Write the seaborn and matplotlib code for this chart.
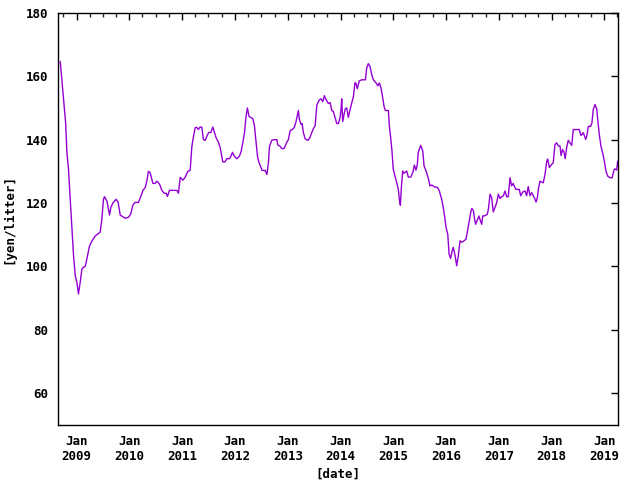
import pandas as pd
import seaborn as sns
import matplotlib
matplotlib.use("Agg")
from matplotlib import pyplot as plt
import matplotlib.dates as mdates

# weekly regular gasoline price
dates = [
    "2008-09-09", "2008-09-21", "2008-10-07", "2008-10-16", "2008-10-25", "2008-11-05",
    "2008-11-17", "2008-11-29", "2008-12-10", "2008-12-22", "2009-01-02", "2009-01-13",
    "2009-01-25", "2009-02-06", "2009-02-17", "2009-03-01", "2009-03-12", "2009-03-30",
    "2009-04-16", "2009-05-09", "2009-06-12", "2009-06-24", "2009-07-05", "2009-07-12",
    "2009-07-29", "2009-08-09", "2009-08-16", "2009-08-25", "2009-09-08", "2009-10-01",
    "2009-10-15", "2009-10-29", "2009-11-21", "2009-12-02", "2009-12-25", "2010-01-10",
    "2010-01-24", "2010-02-09", "2010-03-04", "2010-03-21", "2010-04-04", "2010-04-20",
    "2010-05-01", "2010-05-12", "2010-05-24", "2010-06-12", "2010-06-28", "2010-07-10",
    "2010-07-28", "2010-08-13", "2010-08-29", "2010-09-12", "2010-09-21", "2010-10-05",
    "2010-11-25", "2010-12-06", "2010-12-18", "2011-01-06", "2011-01-21", "2011-02-09",
    "2011-02-25", "2011-03-09", "2011-03-20", "2011-04-01", "2011-04-12", "2011-04-23",
    "2011-05-05", "2011-05-17", "2011-05-28", "2011-06-09", "2011-06-20", "2011-07-02",
    "2011-07-18", "2011-08-01", "2011-08-10", "2011-08-24", "2011-09-09", "2011-09-21",
    "2011-10-02", "2011-10-09", "2011-10-25", "2011-11-06", "2011-11-24", "2011-12-04",
    "2011-12-15", "2011-12-27", "2012-01-14", "2012-02-01", "2012-02-13", "2012-02-25",
    "2012-03-07", "2012-03-18", "2012-03-27", "2012-04-08", "2012-04-20", "2012-05-04",
    "2012-05-15", "2012-05-27", "2012-06-05", "2012-06-14", "2012-06-28", "2012-07-07",
    "2012-07-28", "2012-08-09", "2012-08-20", "2012-08-27", "2012-09-12", "2012-09-23",
    "2012-10-17", "2012-10-24", "2012-11-09", "2012-11-20", "2012-12-06", "2012-12-25",
    "2013-01-05", "2013-01-17", "2013-01-31", "2013-02-14", "2013-02-27", "2013-03-15",
    "2013-03-22", "2013-04-03", "2013-04-10", "2013-04-19", "2013-05-01", "2013-05-19",
    "2013-05-30", "2013-06-16", "2013-06-27", "2013-07-09", "2013-07-21", "2013-08-08",
    "2013-08-19", "2013-08-31", "2013-09-11", "2013-09-23", "2013-10-09", "2013-10-21",
    "2013-11-01", "2013-11-12", "2013-11-24", "2013-12-06", "2013-12-17", "2013-12-29",
    "2014-01-05", "2014-01-09", "2014-01-16", "2014-01-25", "2014-02-03", "2014-02-13",
    "2014-02-24", "2014-03-03", "2014-03-20", "2014-03-31", "2014-04-11", "2014-04-18",
    "2014-04-27", "2014-05-11", "2014-05-28", "2014-06-22", "2014-07-01", "2014-07-12",
    "2014-07-24", "2014-08-05", "2014-08-16", "2014-09-04", "2014-09-16", "2014-09-27",
    "2014-10-08", "2014-10-20", "2014-10-29", "2014-11-07", "2014-11-28", "2014-12-05",
    "2014-12-14", "2014-12-23", "2015-01-01", "2015-01-13", "2015-01-25", "2015-02-05",
    "2015-02-12", "2015-02-19", "2015-02-26", "2015-03-07", "2015-03-16", "2015-04-04",
    "2015-04-15", "2015-05-02", "2015-05-16", "2015-05-27", "2015-06-07", "2015-06-16",
    "2015-06-23", "2015-07-10", "2015-07-24", "2015-08-02", "2015-08-16", "2015-09-01",
    "2015-09-12", "2015-09-24", "2015-10-17", "2015-11-02", "2015-11-16", "2015-12-02",
    "2015-12-13", "2015-12-25", "2016-01-01", "2016-01-13", "2016-01-22", "2016-02-02",
    "2016-02-11", "2016-02-20", "2016-03-03", "2016-03-15", "2016-03-26", "2016-04-07",
    "2016-04-19", "2016-05-05", "2016-05-18", "2016-05-27", "2016-06-08", "2016-06-20",
    "2016-06-27", "2016-07-08", "2016-07-15", "2016-07-24", "2016-08-04", "2016-08-16",
    "2016-08-23", "2016-09-04", "2016-09-11", "2016-09-27", "2016-10-13", "2016-10-20",
    "2016-11-01", "2016-11-12", "2016-11-23", "2016-12-05", "2016-12-17", "2016-12-28",
    "2017-01-09", "2017-01-20", "2017-01-31", "2017-02-12", "2017-02-24", "2017-03-07",
    "2017-03-19", "2017-03-30", "2017-04-10", "2017-04-17", "2017-04-29", "2017-05-22",
    "2017-06-01", "2017-06-15", "2017-07-01", "2017-07-12", "2017-07-23", "2017-08-04",
    "2017-08-16", "2017-08-27", "2017-09-08", "2017-09-15", "2017-09-24", "2017-10-01",
    "2017-10-12", "2017-10-24", "2017-11-04", "2017-11-16", "2017-11-28", "2017-12-05",
    "2017-12-16", "2018-01-01", "2018-01-12", "2018-01-24", "2018-02-05", "2018-02-16",
    "2018-02-28", "2018-03-07", "2018-03-18", "2018-03-27", "2018-04-05", "2018-04-15",
    "2018-04-26", "2018-05-08", "2018-05-20", "2018-05-31", "2018-06-23", "2018-07-11",
    "2018-07-23", "2018-08-08", "2018-08-25", "2018-09-01", "2018-09-12", "2018-09-28",
    "2018-10-07", "2018-10-16", "2018-10-28", "2018-11-09", "2018-11-16", "2018-11-27",
    "2018-12-08", "2018-12-20", "2018-12-31", "2019-01-12", "2019-01-24", "2019-02-09",
    "2019-02-24", "2019-03-08", "2019-03-15", "2019-03-27", "2019-04-03",
]

price = [
    164.7, 158.4, 150.0, 145.4, 136.0, 130.6,
    121.2, 111.8, 103.3, 97.0, 95.0, 91.3,
    95.0, 99.2, 99.8, 100.0, 102.3, 106.4,
    108.0, 109.6, 110.8, 114.9, 121.2, 122.0,
    120.6, 118.0, 116.2, 118.6, 120.0, 121.2,
    120.2, 116.2, 115.5, 115.2, 115.5, 116.5,
    119.3, 120.2, 120.2, 122.1, 124.0, 124.9,
    126.9, 130.0, 129.6, 126.2, 126.2, 126.9,
    126.0, 124.0, 123.1, 123.1, 122.1, 124.0,
    124.0, 123.1, 128.1, 127.2, 128.1, 130.0,
    130.3, 137.9, 141.0, 143.8, 143.9, 143.2,
    144.0, 143.9, 140.0, 139.8, 141.0, 142.2,
    142.3, 144.0, 142.6, 140.6, 139.2, 137.5,
    134.8, 133.0, 133.0, 134.0, 134.0, 134.8,
    136.0, 134.8, 134.0, 134.8, 136.3, 139.1,
    142.2, 147.3, 150.0, 147.3, 147.0, 146.6,
    144.4, 139.1, 134.8, 133.0, 131.3, 130.3,
    130.3, 129.0, 132.8, 137.9, 139.8, 140.0,
    140.0, 138.3, 137.9, 137.2, 137.2, 139.2,
    140.0, 142.9, 143.2, 143.8, 145.7, 149.2,
    146.4, 144.8, 145.1, 142.2, 140.3, 139.8,
    140.3, 142.2, 143.5, 144.4, 151.0, 152.6,
    152.9, 152.0, 153.9, 152.6, 151.4, 151.7,
    149.2, 148.9, 147.0, 145.1, 145.1, 147.0,
    150.0, 152.9, 145.7, 147.9, 149.8, 150.0,
    147.0, 148.5, 151.7, 153.6, 158.0, 157.7,
    156.1, 158.6, 158.9, 158.9, 162.6, 164.0,
    163.1, 160.5, 158.9, 157.9, 157.0, 157.9,
    156.3, 153.2, 150.5, 149.2, 149.2, 144.2,
    140.6, 136.4, 130.6, 128.5, 126.4, 124.3,
    121.2, 119.3, 124.9, 130.1, 129.4, 130.1,
    128.2, 128.2, 129.6, 132.0, 130.4, 132.0,
    136.1, 138.2, 136.4, 131.7, 130.1, 127.7,
    125.4, 125.7, 125.0, 125.0, 123.8, 121.2,
    118.6, 114.9, 112.3, 110.2, 103.9, 102.5,
    104.6, 106.0, 103.6, 100.2, 103.4, 108.1,
    107.6, 108.1, 108.6, 110.7, 113.9, 117.0,
    118.3, 117.7, 115.4, 113.3, 114.5, 115.9,
    114.8, 113.3, 115.9, 116.0, 116.5, 118.0,
    122.8, 121.7, 117.2, 118.6, 120.2, 122.8,
    121.4, 122.0, 122.2, 123.8, 122.0, 122.0,
    128.0, 125.4, 126.2, 125.4, 124.3, 124.3,
    122.3, 123.5, 123.8, 122.3, 125.2, 122.3,
    123.3, 122.3, 121.2, 120.3, 121.6, 124.3,
    126.9, 126.6, 126.4, 129.0, 133.2, 133.9,
    131.2, 132.2, 132.7, 138.5, 139.0, 138.0,
    138.0, 135.0, 136.9, 136.1, 134.0, 137.5,
    139.8, 139.0, 138.2, 143.2, 143.2, 143.2,
    141.3, 142.2, 140.1, 141.1, 144.2, 144.2,
    145.3, 149.5, 151.1, 149.7, 146.4, 141.6,
    138.0, 135.8, 133.4, 130.1, 128.5, 128.0,
    128.0, 130.4, 130.8, 130.4, 133.2,
]

df = pd.DataFrame({"date": pd.to_datetime(dates), "price": price})

sns.set_style("white")
plt.rcParams["font.family"] = ["DejaVu Sans Mono"]
plt.rcParams["font.weight"] = "bold"
plt.rcParams["font.size"] = 9
plt.rcParams["text.color"] = "black"
plt.rcParams["axes.labelcolor"] = "black"

fig = plt.figure(figsize=(6.4, 4.8), dpi=100)
ax = fig.add_axes([0.091, 0.115, 0.875, 0.858])

sns.lineplot(data=df, x="date", y="price", color="#9400d3", linewidth=1.0, ax=ax)

ax.set_xlim(pd.Timestamp("2008-08-26"), pd.Timestamp("2019-04-07"))
ax.set_ylim(50, 180)
ax.set_yticks([60, 80, 100, 120, 140, 160, 180])

ax.xaxis.set_major_locator(mdates.YearLocator())
ax.xaxis.set_major_formatter(mdates.DateFormatter("%b\n%Y"))
ax.xaxis.set_minor_locator(mdates.MonthLocator(bymonth=[4, 7, 10]))

for s in ax.spines.values():
    s.set_visible(True)
    s.set_color("black")
    s.set_linewidth(1.0)

ax.tick_params(axis="both", which="major", direction="in", length=5, width=1,
               top=True, right=True, labelsize=9, pad=7, colors="black")
ax.tick_params(axis="x", which="minor", direction="in", length=3, width=1, top=True)
for lab in ax.get_xticklabels() + ax.get_yticklabels():
    lab.set_fontweight("bold")

ax.set_xlabel("[date]", fontsize=9, fontweight="bold", color="black", labelpad=4)
ax.set_ylabel("[yen/litter]", fontsize=9, fontweight="bold", color="black", labelpad=8)

fig.savefig("out.png", dpi=100)
